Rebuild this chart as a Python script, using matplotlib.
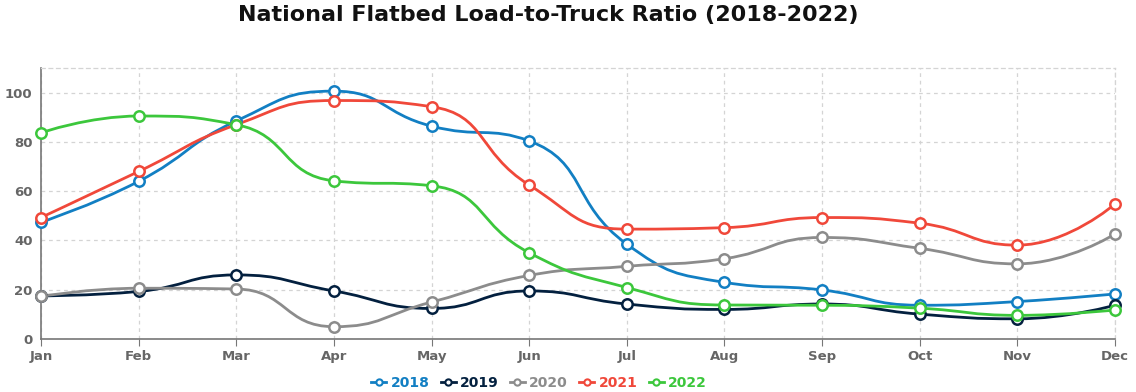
import numpy as np
import matplotlib
matplotlib.use("Agg")
import matplotlib.pyplot as plt
from matplotlib.path import Path
from matplotlib.patches import PathPatch
from matplotlib.lines import Line2D

months = ["Jan", "Feb", "Mar", "Apr", "May", "Jun", "Jul", "Aug", "Sep", "Oct", "Nov", "Dec"]
years = ["2018", "2019", "2020", "2021", "2022"]
v2018 = [47.4, 64.0, 88.5, 100.6, 86.4, 80.4, 38.5, 23.0, 19.9, 13.7, 15.2, 18.3]
v2019 = [17.5, 19.3, 26.0, 19.5, 12.4, 19.5, 14.2, 12.0, 14.2, 10.1, 8.2, 13.7]
v2020 = [17.3, 20.6, 20.3, 5.0, 15.0, 25.8, 29.5, 32.6, 41.2, 36.8, 30.5, 42.6]
v2021 = [49.3, 68.0, 87.0, 96.8, 94.3, 62.5, 44.6, 45.2, 49.3, 47.0, 38.1, 54.8]
v2022 = [83.7, 90.5, 87.0, 64.2, 62.2, 35.0, 20.9, 13.8, 13.7, 12.5, 9.6, 11.8]
series = [v2018, v2019, v2020, v2021, v2022]
colors = ["#127fc3", "#03203f", "#8c8c8c", "#f0483a", "#3cc73c"]

fig = plt.figure(figsize=(11.36, 3.92), dpi=100)
ax = fig.add_axes([41/1136, 53/392, (1115-41)/1136, (339-68)/392])
ax.set_xlim(0, len(months) - 1)
ax.set_ylim(0, 110)


def clamp(v, a, b):
    return min(max(v, min(a, b)), max(a, b))


def smooth_path(xs, ys, smooth=0.5):
    pts = ax.transData.transform(np.column_stack([xs, ys]))
    n = len(pts)
    verts = [pts[0]]
    codes = [Path.MOVETO]
    cp0 = pts[0].copy()
    for k in range(1, n):
        x, y = pts[k]
        px, py = pts[k-1]
        if k == n - 1:
            cp1 = np.array([x, y])
            ncp0 = np.array([x, y])
        else:
            nx, ny = pts[k+1]
            vx, vy = nx - px, ny - py
            lp = np.hypot(x - px, y - py)
            ln = np.hypot(nx - x, ny - y)
            r = ln / (ln + lp)
            ncx = x + vx * smooth * r
            ncy = y + vy * smooth * r
            ncx = clamp(ncx, nx, x)
            ncy = clamp(ncy, ny, y)
            vx, vy = ncx - x, ncy - y
            c1x = x - vx * lp / ln
            c1y = y - vy * lp / ln
            c1x = clamp(c1x, px, x)
            c1y = clamp(c1y, py, y)
            vx, vy = x - c1x, y - c1y
            ncx = x + vx * ln / lp
            ncy = y + vy * ln / lp
            cp1 = np.array([c1x, c1y])
            ncp0 = np.array([ncx, ncy])
        verts += [cp0, cp1, np.array([x, y])]
        codes += [Path.CURVE4] * 3
        cp0 = ncp0
    inv = ax.transData.inverted()
    return Path(inv.transform(np.array(verts)), codes)


x = np.arange(len(months))
for vals, c in zip(series, colors):
    p = smooth_path(x, vals)
    ax.add_patch(PathPatch(p, fill=False, edgecolor=c, lw=2.0, zorder=3, capstyle="round", joinstyle="round"))
    ax.plot(x, vals, linestyle="none", marker="o", markersize=7.5, markerfacecolor="white",
            markeredgecolor=c, markeredgewidth=1.8, zorder=4, clip_on=False)

ax.set_xticks(x)
ax.set_xticklabels(months)
ax.set_yticks([0, 20, 40, 60, 80, 100])
ax.grid(True, linestyle=(0, (3, 3)), color="#d4d4d4", linewidth=0.9)
ax.set_axisbelow(True)
for side in ["top", "right"]:
    ax.spines[side].set_visible(True)
    ax.spines[side].set_linestyle((0, (3, 3)))
    ax.spines[side].set_color("#d4d4d4")
    ax.spines[side].set_linewidth(0.9)
for side in ["left", "bottom"]:
    ax.spines[side].set_color("#777777")
    ax.spines[side].set_linewidth(1.2)
ax.tick_params(axis="x", length=5, color="#777777", labelsize=9.5, labelcolor="#666666", pad=3)
ax.tick_params(axis="y", length=0, labelsize=9.5, labelcolor="#666666", pad=6)
for lab in ax.get_xticklabels() + ax.get_yticklabels():
    lab.set_fontweight("bold")

fig.text(0.483, 0.962, "National Flatbed Load-to-Truck Ratio (2018-2022)", ha="center", va="center",
         fontsize=16, fontweight="bold", color="#111111")

handles = [Line2D([0], [0], color=c, lw=2, marker="o", markersize=4.5, markerfacecolor="white",
                  markeredgecolor=c, markeredgewidth=1.5) for c in colors]
leg = fig.legend(handles, years, loc="center", bbox_to_anchor=(539/1136, 1 - 383/392), ncol=5,
                 frameon=False, handlelength=1.1, handletextpad=0.3, columnspacing=0.8,
                 prop={"weight": "bold", "size": 10})
for t, c in zip(leg.get_texts(), colors):
    t.set_color(c)

fig.savefig("out.png", dpi=100)
